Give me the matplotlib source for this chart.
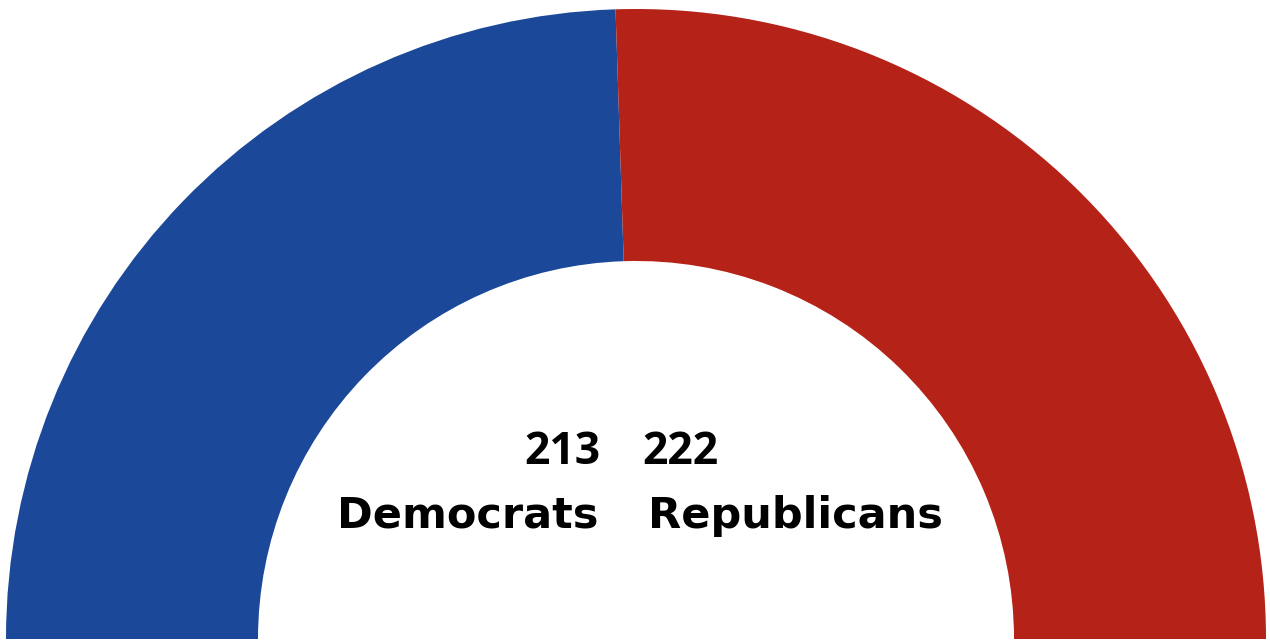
import matplotlib.pyplot as plt
import numpy as np

parties = ['Democrats', 'Republicans']
seats = [213, 222]
colors = ['#1B4898', '#B52218']

fig = plt.figure(figsize=(12.7, 6.42), dpi=100)
ax = fig.add_axes([0, 0, 1, 1])

# half donut: shares scaled to half a circle
share = np.array(seats) / sum(seats) / 2
ax.pie(share, normalize=False, colors=colors, startangle=180, counterclock=False,
       center=(636, 3), radius=630,
       wedgeprops=dict(width=252, linewidth=0))

ax.set_xlim(0, 1270)
ax.set_ylim(0, 642)
ax.set_aspect('equal')
ax.axis('off')

num_font = dict(family=['Open Sans', 'DejaVu Sans'], weight='bold', color='black', fontsize=32)
lab_font = dict(family=['DejaVu Sans'], weight='bold', color='black', fontsize=31)
ax.text(600, 190, str(seats[0]), ha='right', va='center', **num_font)
ax.text(642, 190, str(seats[1]), ha='left', va='center', **num_font)
ax.text(598, 126, parties[0], ha='right', va='center', **lab_font)
ax.text(648, 126, parties[1], ha='left', va='center', **lab_font)

fig.savefig('out.png', dpi=100)
